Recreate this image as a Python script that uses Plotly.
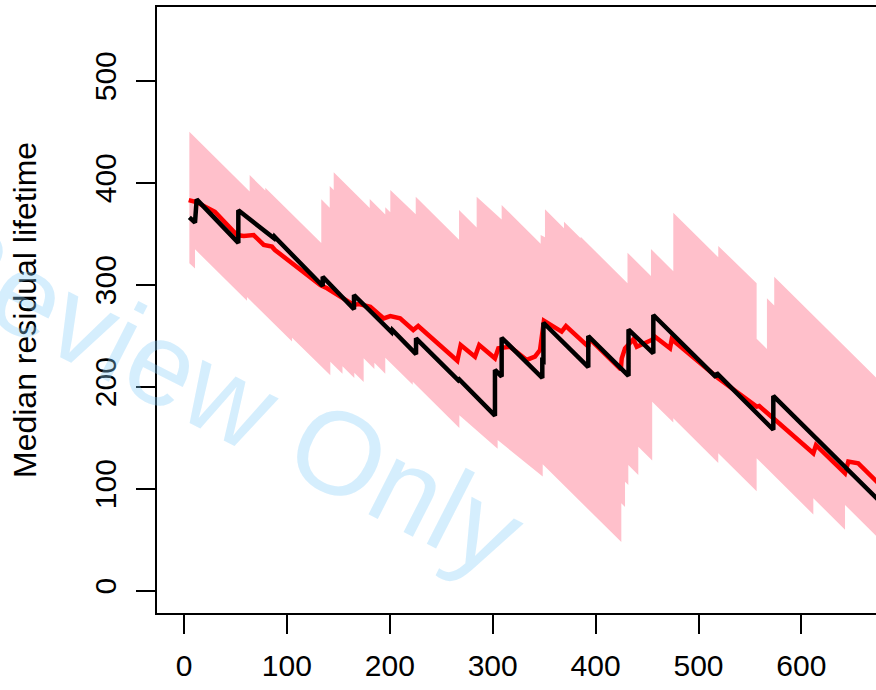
import plotly.graph_objects as go

# ---- data ----
# confidence band (upper / lower edges)
band_upper_x = [5.2, 63.8, 63.8, 79, 79, 133.4, 133.4, 141.6, 141.6, 145.5, 145.5, 180.5, 180.5,
                195.6, 195.6, 200.5, 200.5, 225.2, 225.2, 267.3, 267.3, 284.4, 284.4, 308.7, 308.7,
                346.6, 346.6, 350.8, 350.8, 369.3, 369.3, 385.5, 385.5, 431, 431, 453.8, 453.8,
                475.5, 475.5, 519.2, 519.2, 556.5, 556.5, 566.5, 566.5, 573.6, 573.6, 680]
band_upper_y = [450, 391.5, 407.5, 392.3, 395, 341, 383.7, 375.5, 396.8, 392.9, 410.2, 375.2, 384,
                368.9, 375.9, 371, 392.8, 369.1, 386.3, 344.2, 373.2, 356.1, 386.3, 363.9, 378.1,
                340.2, 348.7, 346.5, 373.9, 355.4, 361.8, 345.6, 347, 301.5, 331.4, 308.6, 335,
                313.3, 370.6, 326.9, 338, 301.5, 247, 237, 286.7, 279.6, 307.8, 201.4]
band_lower_x = [5.2, 10.7, 10.7, 61.2, 61.2, 105, 105, 142.2, 142.2, 154, 154, 165.5, 165.5, 174.6,
                174.6, 185, 185, 195.6, 195.6, 222.3, 222.3, 267.6, 267.6, 304.8, 304.8, 348.6,
                348.6, 425, 425, 428.6, 428.6, 431.8, 431.8, 441.5, 441.5, 455, 455, 475.5, 475.5,
                519.2, 519.2, 556.5, 556.5, 611.6, 611.6, 642.4, 642.4, 680]
band_lower_y = [321, 316, 334.7, 284.2, 288, 244.2, 248, 211.2, 224.5, 212.7, 220, 208.5, 213.7,
                204.6, 227.8, 217.4, 223.4, 212.8, 228.5, 201.8, 204.8, 159.5, 172, 139.2, 147.7,
                111.9, 124, 47.6, 85.7, 82.1, 106.9, 103.7, 123.2, 113.5, 141.2, 127.7, 185.3, 164.8,
                169, 125.3, 134.7, 97.4, 129.8, 74.7, 90.6, 59.8, 84, 46.4]

# red estimate
red_x = [4.6, 12, 30, 51.5, 58, 67.7, 77.5, 85.5, 88.4, 132.5, 139, 164.9, 170, 181.1, 194.1,
         200.5, 210, 222.8, 227.6, 245.5, 265.6, 268.9, 282.8, 286.9, 302.2, 305.5, 316.8, 333,
         341.1, 346, 349.8, 367, 371.2, 392.9, 393.5, 424.5, 425.4, 428.6, 436.7, 440, 454.5,
         457.7, 472.3, 474, 519.2, 556.5, 559, 572.7, 611.6, 614.2, 642.4, 645.6, 655.3, 680]
red_y = [383, 381, 371.5, 348.7, 347.7, 348.7, 339, 337.3, 334, 299.7, 296.5, 280.1, 281, 278.4,
         267, 269.3, 267, 255.6, 259.5, 243.1, 225.5, 240.9, 229.4, 240.9, 227.8, 237.6, 239.2,
         226.2, 229.4, 236, 264.7, 254, 259.5, 239.2, 247.5, 217, 227.8, 237.6, 246.5, 239.2,
         245.8, 249, 237.6, 246.5, 208.2, 180.4, 181, 169, 134.7, 142.8, 115.1, 126.5, 124.9, 100.2]

# black estimate
black_x = [5.2, 10.7, 12.3, 52.8, 52.8, 87.5, 88, 134.8, 134.8, 165.2, 165.2, 201.8, 202.5, 225.5,
           225.5, 266.6, 267.5, 302.2, 302.2, 308.7, 308.7, 348.2, 348.2, 349.3, 349.3, 392.9,
           392.9, 432, 432, 456.1, 456.1, 517, 517.5, 572.7, 572.7, 680]
black_y = [366, 361, 383.7, 341, 373, 345.5, 347, 298.7, 307.8, 275.9, 289.9, 253.3, 255.6, 231.9,
           247.4, 206.3, 207.2, 171.6, 216.4, 209.9, 248, 208.5, 225.5, 225, 262.7, 219.1, 249.7,
           210.7, 256, 232.7, 270.3, 209.4, 213.5, 157.8, 190.9, 83.7]

x_ticks = [0, 100, 200, 300, 400, 500, 600]
y_ticks = [0, 100, 200, 300, 400, 500]
y_title = "Median residual lifetime"
watermark = "Review Only"

FONT = "Liberation Sans, Arial, sans-serif"

fig = go.Figure()
fig.add_trace(go.Scatter(
    x=band_upper_x + band_lower_x[::-1],
    y=band_upper_y + band_lower_y[::-1],
    fill="toself", fillcolor="#FFC0CB", mode="lines",
    line=dict(width=0, color="#FFC0CB"), hoverinfo="skip", showlegend=False))
fig.add_trace(go.Scatter(x=red_x, y=red_y, mode="lines",
                         line=dict(color="#FF0000", width=4.5), showlegend=False))
fig.add_trace(go.Scatter(x=black_x, y=black_y, mode="lines",
                         line=dict(color="#000000", width=4.5), showlegend=False))

fig.update_layout(
    width=876, height=690,
    margin=dict(l=157, r=0, t=7, b=77),
    paper_bgcolor="white", plot_bgcolor="white",
    font=dict(family=FONT, size=30, color="black"),
    showlegend=False,
    xaxis=dict(range=[-26.24, 672.5], tickvals=x_ticks, ticktext=[str(v) for v in x_ticks],
               showgrid=False, zeroline=False, showline=True, mirror=True,
               linecolor="black", linewidth=2, ticks="outside", ticklen=19, tickwidth=2,
               tickcolor="black", tickfont=dict(size=30, family=FONT), ticklabelstandoff=6),
    yaxis=dict(range=[-21.9, 572.3], tickvals=y_ticks, ticktext=[str(v) for v in y_ticks],
               showgrid=False, zeroline=False, showline=True, mirror=False,
               linecolor="black", linewidth=2, ticks="outside", ticklen=19, tickwidth=2,
               tickcolor="black", tickangle=-90, tickfont=dict(size=30, family=FONT),
               ticklabelstandoff=8),
    annotations=[
        dict(text=y_title, xref="paper", yref="paper", x=(25 - 157) / 719, y=0.5,
             xanchor="center", yanchor="middle", textangle=-90, showarrow=False,
             font=dict(size=32, family=FONT, color="black")),
        dict(text=watermark, xref="paper", yref="paper", x=(219 - 157) / 719,
             y=(613 - 392) / 606, xanchor="center", yanchor="middle", textangle=27,
             showarrow=False, font=dict(size=118, family=FONT, color="rgba(135,206,250,0.35)")),
    ],
)

fig.write_html("out.html")
